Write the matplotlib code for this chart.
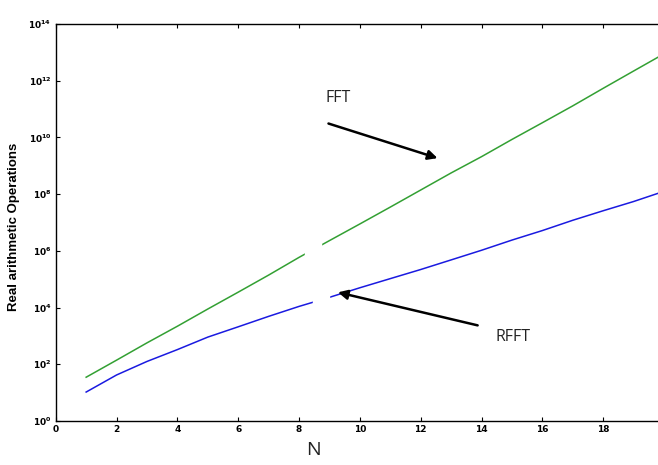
import numpy as np
import matplotlib.pyplot as plt
from matplotlib.patches import Rectangle

# values
n = [1, 2, 3, 4, 5, 6, 7, 8, 9, 10, 11, 12, 13, 14, 15, 16, 17, 18, 19, 20]
fft_ops = [35, 140, 570, 2.2e3, 8.9e3, 3.5e4, 1.4e5, 5.9e5, 2.3e6, 8.9e6,
           3.5e7, 1.4e8, 5.6e8, 2.1e9, 8.5e9, 3.3e10, 1.3e11, 5.4e11, 2.2e12, 8.9e12]
rfft_ops = [10.5, 42, 126, 330, 910, 2.1e3, 4.9e3, 1.1e4, 2.3e4, 5.0e4,
            1.05e5, 2.2e5, 4.8e5, 1.05e6, 2.4e6, 5.2e6, 1.2e7, 2.6e7, 5.5e7, 1.26e8]
x_ticks = [0, 2, 4, 6, 8, 10, 12, 14, 16, 18, 20]
x_labels = ['0', '2', '4', '6', '8', '10', '12', '14', '16', '18', '']
y_ticks = [1e0, 1e2, 1e4, 1e6, 1e8, 1e10, 1e12, 1e14]

fig = plt.figure(figsize=(6.58, 4.65), dpi=100)
ax = fig.add_axes([0.0847, 0.0946, 0.9245, 0.8538])

ax.semilogy(n, fft_ops, color='#33a033', linewidth=1.1)
ax.semilogy(n, rfft_ops, color='#1a1ae0', linewidth=1.1)

ax.set_xlim(0, 20)
ax.set_ylim(1e0, 1e14)
ax.set_xticks(x_ticks)
ax.set_xticklabels(x_labels)
ax.set_yticks(y_ticks)
ax.minorticks_off()
ax.tick_params(direction='in', length=3, width=0.8, top=True, right=True,
               labelsize=6.5, pad=3)
for lab in ax.get_xticklabels() + ax.get_yticklabels():
    lab.set_fontweight('bold')
for sp in ax.spines.values():
    sp.set_linewidth(1.0)

ax.set_ylabel('Real arithmetic Operations', fontsize=9.5, fontweight='bold',
              family='Liberation Sans')
ax.yaxis.set_label_coords(-0.058, 0.49)
fig.text(0.476, 0.032, 'N', fontsize=14, ha='center', va='center',
         family='Open Sans', color='#222222')

# annotations
ax.text(8.86, 10**11.39, 'FFT', fontsize=11.5, va='center', ha='left',
        family='Open Sans', color='#222222')
ax.annotate('', xy=(12.64, 10**9.24), xytext=(8.88, 10**10.52),
            arrowprops=dict(arrowstyle='-|>', color='black', lw=1.8,
                            mutation_scale=14))
ax.text(14.45, 10**2.96, 'RFFT', fontsize=11.5, va='center', ha='left',
        family='Open Sans', color='#222222')
ax.annotate('', xy=(9.19, 10**4.56), xytext=(13.96, 10**3.35),
            arrowprops=dict(arrowstyle='-|>', color='black', lw=1.8,
                            mutation_scale=14))

# white gaps in the lines near N = 8.5
fig.patches.append(Rectangle((0.4635, 0.4495), 0.0243, 0.028,
                             transform=fig.transFigure, color='white', zorder=5))
fig.patches.append(Rectangle((0.4757, 0.3462), 0.0243, 0.0215,
                             transform=fig.transFigure, color='white', zorder=5))

plt.savefig('out.png', dpi=100)
